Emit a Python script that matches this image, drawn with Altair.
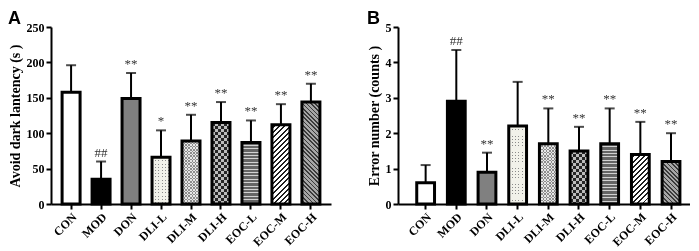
import math
import altair as alt
import pandas as pd

groups = ["CON", "MOD", "DON", "DLI-L", "DLI-M", "DLI-H", "EOC-L", "EOC-M", "EOC-H"]

latency_mean = [158, 35, 149, 66, 89, 115, 87, 112, 144]
latency_sd = [38, 25, 36, 38, 37, 29, 31, 29, 26]
latency_sig = ["", "##", "**", "*", "**", "**", "**", "**", "**"]

errors_mean = [0.6, 2.9, 0.9, 2.2, 1.7, 1.5, 1.7, 1.4, 1.2]
errors_sd = [0.5, 1.45, 0.55, 1.25, 1.0, 0.68, 1.0, 0.92, 0.8]
errors_sig = ["", "##", "**", "", "**", "**", "**", "**", "**"]

SERIF = "Liberation Serif"
SANS = "Liberation Sans"


def stripe_gradient(n, bg, line, frac, x1, y1, x2, y2):
    n = max(n, 1.0)
    stops = []
    k = 0
    while k / n < 1:
        o0 = k / n
        o1 = min((k + 1 - frac) / n, 1.0)
        o2 = min((k + 1) / n, 1.0)
        stops += [
            {"offset": round(o0, 5), "color": bg},
            {"offset": round(o1, 5), "color": bg},
            {"offset": round(o1, 5), "color": line},
            {"offset": round(o2, 5), "color": line},
        ]
        k += 1
    return {"gradient": "linear", "x1": x1, "y1": y1, "x2": x2, "y2": y2, "stops": stops}


def panel(means, sds, sigs, ymax, yvals, ytitle, letter, W, H, pi, po, align):
    df = pd.DataFrame({
        "group": groups,
        "mean": means,
        "top": [m + s for m, s in zip(means, sds)],
        "sig": sigs,
    })
    step = W / (len(groups) - pi + 2 * po)
    bw = step * (1 - pi)

    x = alt.X("group:N", sort=groups, title=None,
              scale=alt.Scale(paddingInner=pi, paddingOuter=po, align=align),
              axis=alt.Axis(labelAngle=-45, labelFont=SERIF, labelFontWeight="bold",
                            labelFontSize=12, labelColor="black", domainColor="black",
                            domainWidth=2, tickColor="black", tickWidth=2, tickSize=5,
                            labelPadding=2))
    yaxis = alt.Axis(values=yvals, labelFont=SERIF, labelFontWeight="bold",
                     labelFontSize=12, labelColor="black", domainColor="black",
                     domainWidth=2, tickColor="black", tickWidth=2, tickSize=5,
                     titleFont=SERIF, titleFontWeight="bold", titleFontSize=14,
                     titleColor="black", titlePadding=4, grid=False, labelPadding=2,
                     labelOverlap=False)
    yscale = alt.Scale(domain=[0, ymax], nice=False, zero=True)
    y = alt.Y("mean:Q", title=ytitle, scale=yscale, axis=yaxis)
    ytop = alt.Y("top:Q", title=ytitle, scale=yscale, axis=yaxis)

    base = alt.Chart(df)
    layers = [
        base.mark_rule(color="black", strokeWidth=2).encode(
            x=x, y=y, y2="top:Q")
    ]

    flat = {"CON": "#ffffff", "MOD": "#000000", "DON": "#808080"}
    for i, g in enumerate(groups):
        sub = base.transform_filter(alt.datum.group == g)
        h = means[i] / ymax * H
        w = bw
        if g in flat:
            layers.append(sub.mark_bar(fill=flat[g], stroke="black", strokeWidth=3).encode(x=x, y=y))
            continue
        if g in ("DLI-L", "DLI-M", "DLI-H"):
            if g == "DLI-L":
                sq, light, dark = 3.2, "#f2f2ea", "#8a8a8a"
                rows = stripe_gradient(h / sq, "#000000", "#ffffff", 0.7, 0, 0, 0, 1)
                cols = stripe_gradient(w / sq, "#000000", "#ffffff", 0.7, 0, 0, 1, 0)
                layers.append(sub.mark_bar(fill=rows).encode(x=x, y=y))
                layers.append(sub.mark_bar(fill=cols, blend="lighten").encode(x=x, y=y))
                layers.append(sub.mark_bar(fill=dark, blend="lighten").encode(x=x, y=y))
                layers.append(sub.mark_bar(fill=light, blend="darken").encode(x=x, y=y))
            else:
                if g == "DLI-M":
                    sq, light, dark = 1.6, "#e6e6e6", "#8c8c8c"
                else:
                    sq, light, dark = 3.0, "#bdbdbd", "#262626"
                rows = stripe_gradient(h / (2 * sq), "#000000", light, 0.5, 0, 0, 0, 1)
                cols = stripe_gradient(w / (2 * sq), "#000000", light, 0.5, 0, 0, 1, 0)
                layers.append(sub.mark_bar(fill=rows).encode(x=x, y=y))
                layers.append(sub.mark_bar(fill=cols, blend="difference").encode(x=x, y=y))
                layers.append(sub.mark_bar(fill=dark, blend="lighten").encode(x=x, y=y))
        elif g == "EOC-L":
            grad = stripe_gradient(h / 3.4, "#656565", "#d2d2d2", 0.32, 0, 0, 0, 1)
            layers.append(sub.mark_bar(fill=grad).encode(x=x, y=y))
        elif g == "EOC-M":
            t = (w + h) / (w * w + h * h)
            n = (w + h) / (3.6 * math.sqrt(2))
            grad = stripe_gradient(n, "#ffffff", "#1e1e1e", 0.38, 0, 0, t * w, t * h)
            layers.append(sub.mark_bar(fill=grad).encode(x=x, y=y))
        elif g == "EOC-H":
            t = (w + h) / (w * w + h * h)
            n = (w + h) / (3.0 * math.sqrt(2))
            grad = stripe_gradient(n, "#a6a6a6", "#3a3a3a", 0.38, 0, 1, t * w, 1 - t * h)
            layers.append(sub.mark_bar(fill=grad).encode(x=x, y=y))
        layers.append(sub.mark_bar(fillOpacity=0, stroke="black", strokeWidth=3).encode(x=x, y=y))

    layers.append(base.mark_tick(color="black", thickness=2, size=10, orient="horizontal").encode(
        x=x, y=ytop))
    layers.append(base.mark_text(baseline="bottom", dy=-2, font=SERIF, fontSize=13,
                                 color="#333333").encode(x=x, y=ytop, text="sig:N"))

    return alt.layer(*layers).properties(
        width=W, height=H,
        title=alt.TitleParams(letter, anchor="start", font=SANS, fontSize=18,
                              fontWeight="bold", color="black", offset=-7,
                              frame="bounds"),
    )


a = panel(latency_mean, latency_sd, latency_sig, 250, [0, 50, 100, 150, 200, 250],
          "Avoid dark lantency (s )", "A", 280, 177, 0.4, 0.37, 0.5)
b = panel(errors_mean, errors_sd, errors_sig, 5, [0, 1, 2, 3, 4, 5],
          "Error number (counts )", "B", 292, 177, 0.42, 0.47, 0.65)

chart = alt.hconcat(a, b, spacing=36).properties(
    padding={"left": 0, "top": 2, "right": 0, "bottom": 0}
).configure_view(stroke=None)

chart.save("out.html", embed_options={"renderer": "svg", "actions": False})
